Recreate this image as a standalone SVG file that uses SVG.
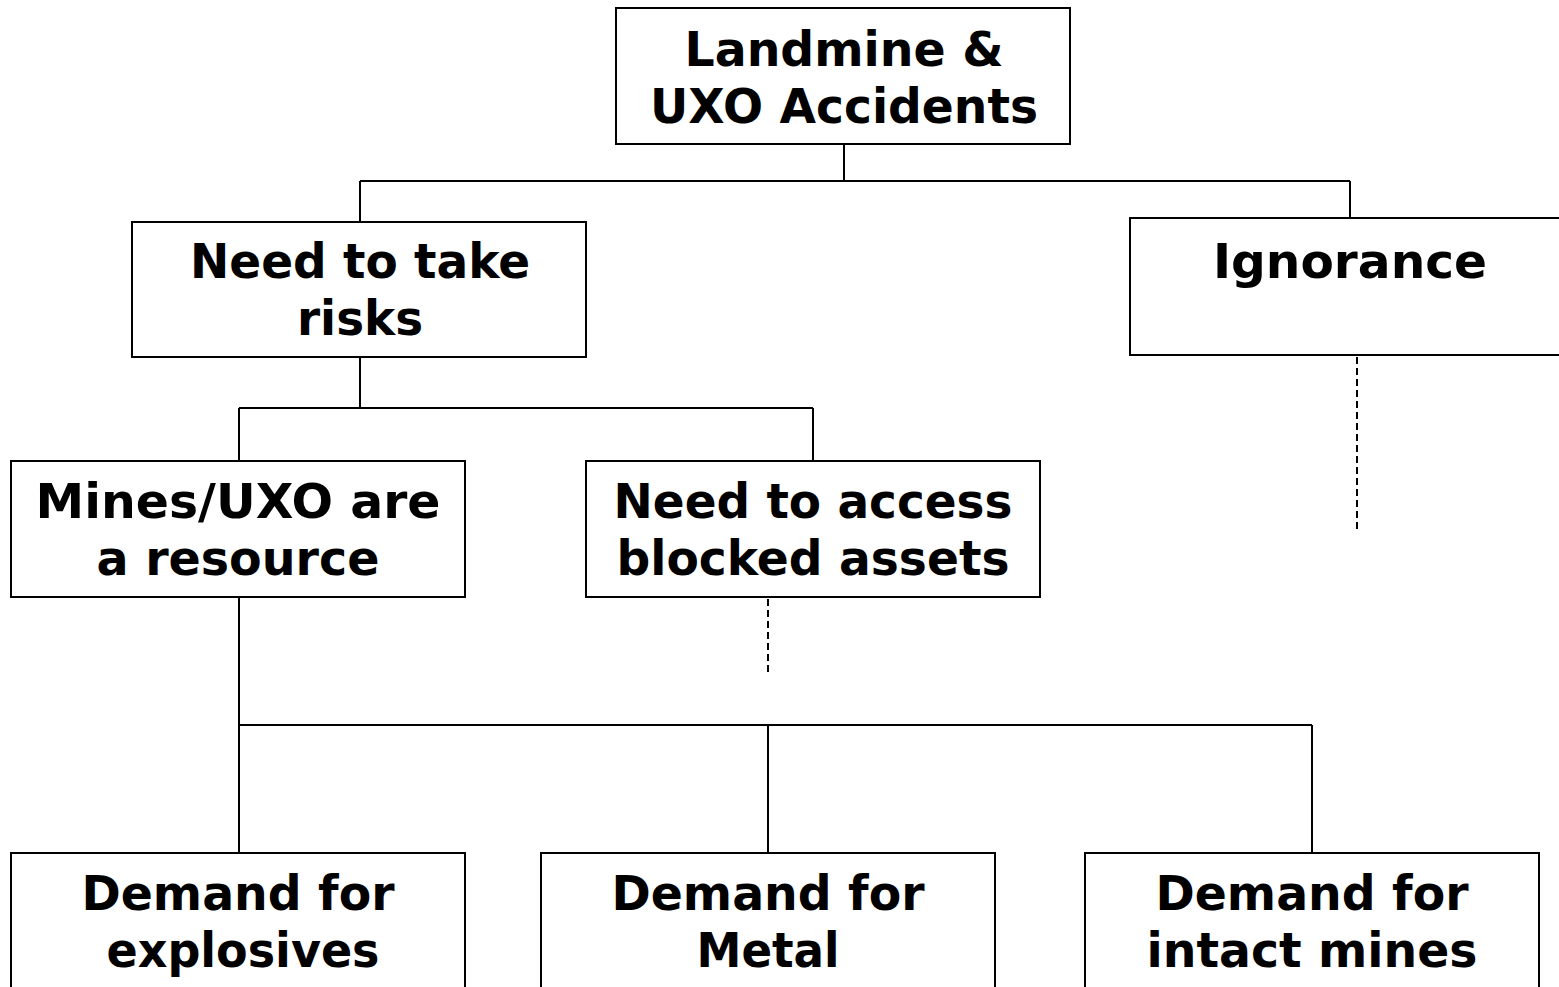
<svg xmlns="http://www.w3.org/2000/svg" width="1559" height="987" viewBox="0 0 1559 987">
<style>
.box{fill:#fff;stroke:#000;stroke-width:2}
.ln{fill:none;stroke:#000;stroke-width:2}
.dash{fill:none;stroke:#000;stroke-width:2;stroke-dasharray:7 4}
text{font-family:"DejaVu Sans","Verdana",sans-serif;font-weight:bold;font-size:48px;fill:#000;text-anchor:middle}
</style>
<rect width="1559" height="987" fill="#fff"/>
<g id="connectors">
<path class="ln" d="M844 144V181M360 181H1350M360 181V222M1350 181V218"/>
<path class="ln" d="M360 357V408M239 408H813M239 408V461M813 408V461"/>
<path class="ln" d="M239 597V725M239 725H1312M239 725V853M768 725V853M1312 725V853"/>
<path class="dash" d="M1357 357V530"/>
<path class="dash" d="M768 599V673"/>
</g>
<g id="n-accidents">
<rect class="box" x="616" y="8" width="454" height="136"/>
<text x="844" y="66" textLength="319" lengthAdjust="spacingAndGlyphs">Landmine &amp;</text>
<text x="844" y="123" textLength="388" lengthAdjust="spacingAndGlyphs">UXO Accidents</text>
</g>
<g id="n-risks">
<rect class="box" x="132" y="222" width="454" height="135"/>
<text x="360" y="278" textLength="340" lengthAdjust="spacingAndGlyphs">Need to take</text>
<text x="360" y="335" textLength="126" lengthAdjust="spacingAndGlyphs">risks</text>
</g>
<g id="n-ignorance">
<rect class="box" x="1130" y="218" width="440" height="137"/>
<text x="1350" y="278" textLength="274" lengthAdjust="spacingAndGlyphs">Ignorance</text>
</g>
<g id="n-resource">
<rect class="box" x="11" y="461" width="454" height="136"/>
<text x="238" y="518" textLength="405" lengthAdjust="spacingAndGlyphs">Mines/UXO are</text>
<text x="238" y="575" textLength="283" lengthAdjust="spacingAndGlyphs">a resource</text>
</g>
<g id="n-access">
<rect class="box" x="586" y="461" width="454" height="136"/>
<text x="813" y="518" textLength="399" lengthAdjust="spacingAndGlyphs">Need to access</text>
<text x="813" y="575" textLength="393" lengthAdjust="spacingAndGlyphs">blocked assets</text>
</g>
<g id="n-explosives">
<rect class="box" x="11" y="853" width="454" height="150"/>
<text x="238" y="910" textLength="313" lengthAdjust="spacingAndGlyphs">Demand for</text>
<text x="243" y="967" textLength="273" lengthAdjust="spacingAndGlyphs">explosives</text>
</g>
<g id="n-metal">
<rect class="box" x="541" y="853" width="454" height="150"/>
<text x="768" y="910" textLength="313" lengthAdjust="spacingAndGlyphs">Demand for</text>
<text x="768" y="967" textLength="143" lengthAdjust="spacingAndGlyphs">Metal</text>
</g>
<g id="n-intact">
<rect class="box" x="1085" y="853" width="454" height="150"/>
<text x="1312" y="910" textLength="313" lengthAdjust="spacingAndGlyphs">Demand for</text>
<text x="1312" y="967" textLength="331" lengthAdjust="spacingAndGlyphs">intact mines</text>
</g>
</svg>
